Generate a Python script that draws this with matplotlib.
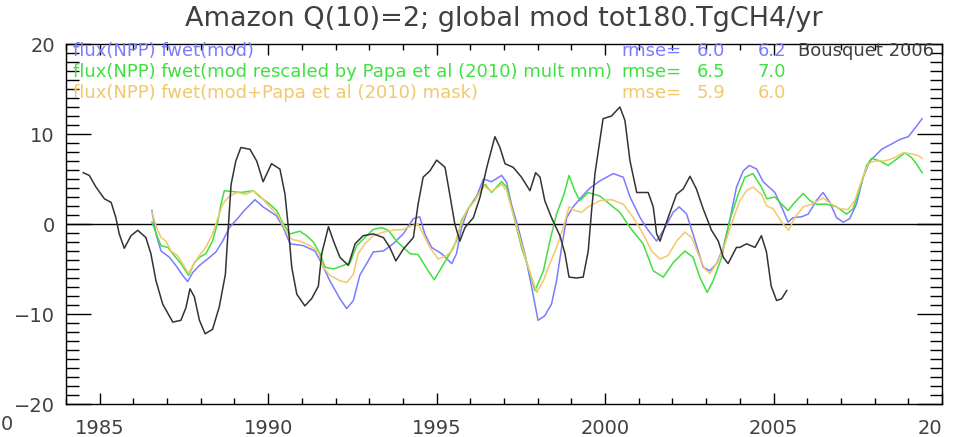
import numpy as np
import matplotlib.pyplot as plt
from matplotlib.ticker import MultipleLocator

# Bousquet 2006 (black)
yr_bq = [1984.51, 1984.69, 1984.89, 1985.14, 1985.34, 1985.48, 1985.58, 1985.73, 1985.93, 1986.13,
         1986.37, 1986.52, 1986.67, 1986.87, 1987.17, 1987.41, 1987.56, 1987.68, 1987.81, 1987.96,
         1988.13, 1988.35, 1988.55, 1988.73, 1988.83, 1988.90, 1989.04, 1989.19, 1989.46, 1989.66,
         1989.85, 1990.10, 1990.35, 1990.50, 1990.60, 1990.70, 1990.85, 1991.09, 1991.29, 1991.49,
         1991.59, 1991.79, 1991.94, 1992.13, 1992.38, 1992.58, 1992.82, 1993.12, 1993.42, 1993.61,
         1993.79, 1994.01, 1994.31, 1994.45, 1994.60, 1994.80, 1995.00, 1995.25, 1995.39, 1995.54,
         1995.69, 1995.84, 1996.09, 1996.29, 1996.49, 1996.73, 1996.88, 1997.03, 1997.27, 1997.52,
         1997.77, 1997.94, 1998.07, 1998.21, 1998.41, 1998.66, 1998.81, 1998.93, 1999.15, 1999.35,
         1999.50, 1999.60, 1999.70, 1999.94, 2000.19, 2000.44, 2000.59, 2000.74, 2000.94, 2001.28,
         2001.43, 2001.53, 2001.63, 2001.87, 2002.12, 2002.32, 2002.52, 2002.71, 2002.91, 2003.16,
         2003.36, 2003.51, 2003.65, 2003.90, 2004.00, 2004.20, 2004.45, 2004.64, 2004.79, 2004.93,
         2005.09, 2005.24, 2005.39]
val_bq = [5.7, 5.4, 4.1, 2.8, 2.4, 0.7, -1.1, -2.7, -1.3, -0.7,
          -1.5, -3.3, -6.3, -8.9, -10.9, -10.7, -9.3, -7.2, -8.1, -10.7,
          -12.2, -11.7, -9.2, -5.6, 0.4, 4.4, 7.0, 8.5, 8.3, 7.0,
          4.7, 6.7, 6.1, 3.3, -0.4, -4.8, -7.8, -9.1, -8.3, -6.9,
          -3.3, -0.3, -1.9, -3.7, -4.6, -2.2, -1.3, -1.1, -1.5, -2.6,
          -4.1, -2.8, -1.5, 2.2, 5.2, 5.9, 7.1, 6.3, 3.3, 0.0,
          -1.9, -0.4, 0.7, 3.0, 6.3, 9.7, 8.5, 6.7, 6.3, 5.2,
          3.7, 5.7, 5.2, 2.6, 0.7, -1.3, -3.3, -5.9, -6.0, -5.9,
          -3.0, 1.5, 5.6, 11.7, 12.0, 13.0, 11.5, 7.0, 3.5, 3.5,
          1.9, -1.1, -1.9, 0.7, 3.3, 3.9, 5.3, 3.9, 1.7, -0.7,
          -1.9, -3.7, -4.4, -2.6, -2.6, -2.2, -2.6, -1.3, -3.1, -6.9,
          -8.5, -8.3, -7.4]

# flux(NPP) fwet(mod)  (blue)
yr_mod = [1986.55, 1986.67, 1986.82, 1987.07, 1987.26, 1987.46, 1987.61, 1987.76, 1987.96, 1988.20,
          1988.45, 1988.65, 1988.85, 1989.09, 1989.29, 1989.61, 1989.85, 1990.25, 1990.45, 1990.65,
          1991.04, 1991.39, 1991.59, 1991.83, 1992.13, 1992.33, 1992.53, 1992.72, 1992.97, 1993.12,
          1993.42, 1993.71, 1994.01, 1994.31, 1994.50, 1994.65, 1994.85, 1995.15, 1995.45, 1995.59,
          1995.74, 1995.94, 1996.19, 1996.39, 1996.63, 1996.93, 1997.08, 1997.22, 1997.42, 1997.62,
          1997.82, 1998.01, 1998.21, 1998.41, 1998.56, 1998.71, 1998.86, 1999.05, 1999.30, 1999.55,
          1999.85, 2000.24, 2000.54, 2000.74, 2001.04, 2001.28, 2001.53, 2001.78, 2002.02, 2002.20,
          2002.42, 2002.61, 2002.91, 2003.11, 2003.31, 2003.51, 2003.70, 2003.90, 2004.10, 2004.28,
          2004.50, 2004.69, 2005.04, 2005.24, 2005.43, 2005.58, 2005.83, 2006.03, 2006.27, 2006.47,
          2006.67, 2006.87, 2007.07, 2007.26, 2007.46, 2007.66, 2007.86, 2008.21, 2008.51, 2008.75,
          2009.00, 2009.19, 2009.41]
val_mod = [1.5, -1.1, -3.0, -3.7, -4.6, -5.7, -6.4, -5.4, -4.6, -3.9,
           -3.1, -1.9, -0.4, 0.6, 1.5, 2.7, 1.9, 0.9, -0.4, -2.2,
           -2.4, -3.0, -4.4, -6.3, -8.3, -9.4, -8.5, -5.7, -4.1, -3.1,
           -3.0, -2.2, -1.1, 0.6, 0.8, -1.1, -2.6, -3.3, -4.4, -3.3,
           -0.4, 1.7, 3.1, 5.0, 4.7, 5.4, 4.6, 2.2, -0.4, -3.3,
           -7.0, -10.7, -10.2, -8.9, -6.3, -2.6, 0.7, 1.9, 3.0, 4.0,
           4.8, 5.6, 5.2, 3.0, 0.7, -0.7, -1.9, -0.4, 1.3, 1.9,
           1.1, -1.1, -4.8, -5.2, -4.4, -2.6, 0.4, 4.1, 5.9, 6.5,
           6.1, 4.7, 3.5, 1.9, 0.2, 0.7, 0.8, 1.1, 2.6, 3.5,
           2.4, 0.7, 0.2, 0.6, 2.2, 5.2, 7.0, 8.3, 8.9, 9.4,
           9.7, 10.6, 11.7]

# flux(NPP) fwet(mod rescaled by Papa et al (2010) mult mm)  (green)
yr_res = [1986.55, 1986.72, 1986.82, 1987.02, 1987.17, 1987.41, 1987.64, 1987.81, 1987.96, 1988.15,
          1988.35, 1988.50, 1988.60, 1988.70, 1988.95, 1989.19, 1989.56, 1989.76, 1990.05, 1990.25,
          1990.45, 1990.65, 1990.94, 1991.14, 1991.34, 1991.54, 1991.69, 1991.94, 1992.23, 1992.43,
          1992.63, 1992.87, 1993.12, 1993.37, 1993.57, 1993.81, 1994.01, 1994.21, 1994.45, 1994.75,
          1994.93, 1995.15, 1995.39, 1995.59, 1995.74, 1995.94, 1996.19, 1996.44, 1996.63, 1996.93,
          1997.08, 1997.32, 1997.52, 1997.72, 1997.92, 1998.17, 1998.36, 1998.56, 1998.78, 1998.93,
          1999.10, 1999.25, 1999.50, 1999.85, 2000.14, 2000.44, 2000.74, 2001.13, 2001.43, 2001.73,
          2002.02, 2002.37, 2002.61, 2002.81, 2003.03, 2003.21, 2003.46, 2003.70, 2003.95, 2004.15,
          2004.39, 2004.64, 2004.80, 2005.04, 2005.24, 2005.43, 2005.63, 2005.88, 2006.08, 2006.27,
          2006.57, 2006.87, 2007.17, 2007.36, 2007.56, 2007.76, 2007.91, 2008.16, 2008.40, 2008.65,
          2008.90, 2009.09, 2009.24, 2009.41]
val_res = [0.2, -1.5, -2.4, -2.6, -3.3, -4.4, -5.7, -4.3, -3.7, -3.3,
           -1.9, 0.2, 2.2, 3.7, 3.6, 3.5, 3.7, 3.0, 2.2, 1.5,
           0.0, -1.1, -0.8, -1.3, -2.0, -3.3, -4.8, -5.0, -4.6, -4.3,
           -2.4, -1.5, -0.6, -0.4, -0.7, -1.9, -2.6, -3.3, -3.4, -5.2,
           -6.2, -4.8, -3.3, -1.9, 0.4, 1.7, 3.0, 4.4, 3.5, 4.7,
           4.1, 0.4, -2.6, -4.8, -7.4, -5.2, -1.9, 1.1, 3.3, 5.4,
           3.7, 2.6, 3.5, 3.1, 2.2, 1.3, -0.4, -2.2, -5.2, -5.9,
           -4.3, -3.0, -3.7, -5.9, -7.6, -6.3, -3.7, 0.4, 3.3, 5.2,
           5.6, 4.1, 2.8, 3.0, 2.2, 1.5, 2.4, 3.4, 2.6, 2.2,
           2.2, 1.9, 1.1, 1.7, 3.9, 6.5, 7.3, 7.0, 6.5, 7.2,
           7.9, 7.4, 6.7, 5.7]

# flux(NPP) fwet(mod+Papa et al (2010) mask)  (orange)
yr_msk = [1986.55, 1986.69, 1986.82, 1986.97, 1987.12, 1987.31, 1987.46, 1987.64, 1987.81, 1987.96,
          1988.15, 1988.35, 1988.50, 1988.65, 1988.85, 1989.09, 1989.34, 1989.56, 1989.76, 1990.05,
          1990.30, 1990.50, 1990.70, 1990.94, 1991.24, 1991.49, 1991.63, 1991.83, 1992.13, 1992.33,
          1992.53, 1992.67, 1992.87, 1993.12, 1993.42, 1993.71, 1994.01, 1994.26, 1994.45, 1994.60,
          1994.80, 1995.05, 1995.30, 1995.49, 1995.69, 1995.89, 1996.14, 1996.39, 1996.63, 1996.93,
          1997.08, 1997.32, 1997.52, 1997.72, 1997.97, 1998.17, 1998.36, 1998.56, 1998.76, 1998.93,
          1999.10, 1999.30, 1999.50, 1999.85, 2000.19, 2000.54, 2000.84, 2001.13, 2001.38, 2001.63,
          2001.87, 2002.12, 2002.37, 2002.57, 2002.76, 2002.96, 2003.11, 2003.36, 2003.56, 2003.75,
          2004.00, 2004.20, 2004.39, 2004.64, 2004.80, 2004.99, 2005.24, 2005.45, 2005.63, 2005.88,
          2006.13, 2006.47, 2006.72, 2006.97, 2007.21, 2007.41, 2007.61, 2007.81, 2008.00, 2008.30,
          2008.55, 2008.85, 2009.09, 2009.29, 2009.41]
val_msk = [1.3, -0.4, -1.5, -1.9, -3.0, -3.5, -4.4, -5.5, -4.3, -3.5,
           -2.6, -1.1, 0.6, 2.2, 3.1, 3.5, 3.3, 3.7, 3.1, 1.9,
           0.9, -0.6, -1.7, -1.9, -2.4, -3.1, -4.8, -5.7, -6.3, -6.5,
           -5.6, -3.3, -2.2, -1.3, -0.9, -0.7, -0.6, -0.2, 0.0, -1.1,
           -2.6, -3.9, -3.5, -2.8, -0.4, 1.5, 2.6, 4.3, 3.6, 4.4,
           3.7, 0.4, -2.2, -4.8, -7.6, -6.3, -4.4, -2.6, -0.4, 1.9,
           1.5, 1.3, 1.9, 2.6, 2.7, 2.2, 0.7, -1.1, -3.0, -3.9,
           -3.5, -1.9, -0.9, -1.5, -3.3, -5.0, -5.5, -4.1, -2.2, 0.0,
           2.6, 3.7, 4.1, 3.3, 2.0, 1.7, 0.2, -0.7, 0.7, 1.9,
           2.2, 2.9, 2.2, 1.7, 1.6, 2.6, 4.8, 6.7, 7.0, 7.0,
           7.3, 7.9, 7.8, 7.6, 7.3]

c_mod = '#7b7bff'
c_res = '#3fe03f'
c_msk = '#f2c86a'
c_bq = '#333333'
txt = '#404040'

fig = plt.figure(figsize=(9.55, 4.37), dpi=100)
ax = fig.add_axes([66 / 955, 33 / 437, 876 / 955, 360 / 437])

ax.axhline(0, color='black', lw=1.0)
ax.plot(yr_mod, val_mod, color=c_mod, lw=1.1)
ax.plot(yr_res, val_res, color=c_res, lw=1.1)
ax.plot(yr_msk, val_msk, color=c_msk, lw=1.1)
ax.plot(yr_bq, val_bq, color=c_bq, lw=1.1)

ax.set_xlim(1984, 2010)
ax.set_ylim(-20, 20)
ax.set_xticks([1985, 1990, 1995, 2000, 2005, 2010])
ax.set_xticklabels(['1985', '1990', '1995', '2000', '2005', '20'])
ax.xaxis.get_majorticklabels()[-1].set_horizontalalignment('right')
ax.set_yticks([-20, -10, 0, 10, 20])
ax.xaxis.set_minor_locator(MultipleLocator(1))
ax.yaxis.set_minor_locator(MultipleLocator(1))
ax.tick_params(axis='x', which='major', direction='in', length=8, width=1, top=True, pad=11,
               labelsize=14, labelcolor=txt)
ax.tick_params(axis='x', which='minor', direction='in', length=4, width=1, top=True)
ax.tick_params(axis='y', which='major', direction='in', length=18, width=1, right=True, pad=8,
               labelsize=14, labelcolor=txt)
ax.tick_params(axis='y', which='minor', direction='in', length=9, width=1, right=True)
for s in ax.spines.values():
    s.set_linewidth(1.0)

fig.text(13 / 955, 1 - 425 / 437, '0', ha='right', va='center', fontsize=14, color=txt)

fig.suptitle('Amazon Q(10)=2; global mod tot180.TgCH4/yr', x=504 / 955, y=1 - 19 / 437,
             va='center', fontsize=19.5, color=txt)

# legend block
fs = 13
rows = [('flux(NPP) fwet(mod)', c_mod, '6.0', '6.2'),
        ('flux(NPP) fwet(mod rescaled by Papa et al (2010) mult mm)', c_res, '6.5', '7.0'),
        ('flux(NPP) fwet(mod+Papa et al (2010) mask)', c_msk, '5.9', '6.0')]
row_y = [19.2, 16.9, 14.6]
for (label, col, r1, r2), yy in zip(rows, row_y):
    ax.text(1984.2, yy, label, color=col, fontsize=fs, va='center')
    ax.text(2000.47, yy, 'rmse=', color=col, fontsize=fs, va='center')
    ax.text(2002.72, yy, r1, color=col, fontsize=fs, va='center')
    ax.text(2004.53, yy, r2, color=col, fontsize=fs, va='center')
ax.text(2005.72, row_y[0], 'Bousquet 2006', color=txt, fontsize=fs, va='center')

plt.savefig('out.png', dpi=100)
